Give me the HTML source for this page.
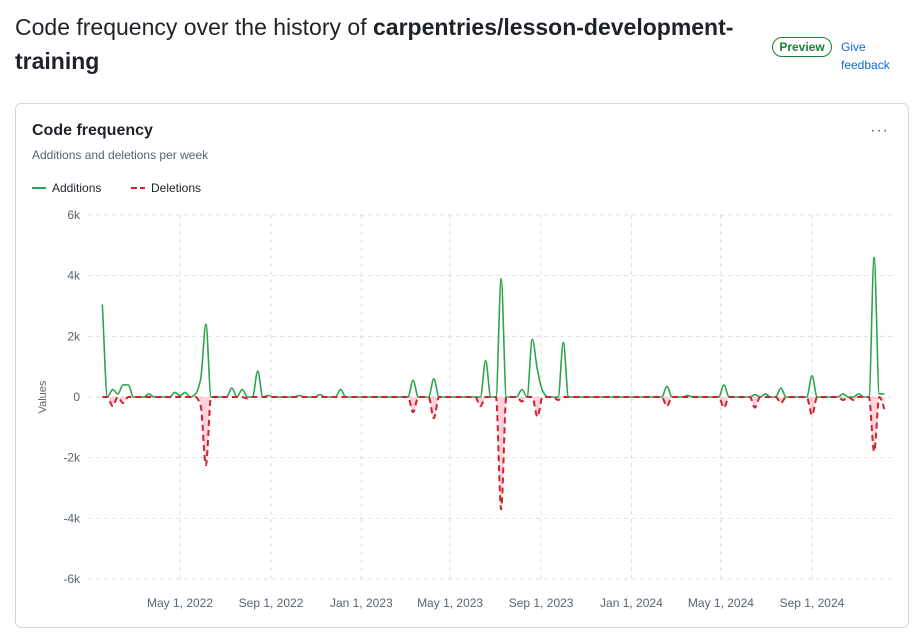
<!DOCTYPE html>
<html><head><meta charset="utf-8">
<style>
body{margin:0;width:924px;height:641px;background:#fff;font-family:"Liberation Sans",sans-serif;color:#1f2328;position:relative;overflow:hidden}
.abs{position:absolute}
h1{position:absolute;left:15px;top:10px;margin:0;font-size:23px;font-weight:400;line-height:34px;width:740px}
h1 b{font-weight:700}
.card{position:absolute;left:15px;top:103px;width:894px;height:525px;border:1px solid #d0d7de;border-radius:6px;box-sizing:border-box}
</style></head><body>
<h1>Code frequency over the history of <b>carpentries/lesson-development-training</b></h1>
<div class="abs" style="left:772px;top:37px;width:58px;height:18px;border:1px solid #1a7f37;border-radius:10px;color:#1a7f37;font-size:12px;font-weight:700;text-align:center;line-height:18px">Preview</div>
<div class="abs" style="left:841px;top:38px;color:#0969da;font-size:12px;line-height:18px">Give<br>feedback</div>
<div class="card"></div>
<div class="abs" style="left:32px;top:122px;font-size:16px;font-weight:700">Code frequency</div>
<div class="abs" style="left:32px;top:148px;font-size:12px;color:#59636e">Additions and deletions per week</div>
<div class="abs" style="left:870px;top:122px;font-size:16px;color:#59636e;letter-spacing:1px">···</div>
<svg class="abs" style="left:0;top:0" width="924" height="641" id="chart">
<g><line x1="32" y1="188" x2="46" y2="188" stroke="#2da44e" stroke-width="2"/><text x="52" y="192" font-size="12" fill="#1f2328">Additions</text></g>
<g><line x1="131" y1="188" x2="145" y2="188" stroke="#cf222e" stroke-width="2" stroke-dasharray="6,3"/><text x="151" y="192" font-size="12" fill="#1f2328">Deletions</text></g>
<text transform="translate(46,397) rotate(-90)" text-anchor="middle" font-size="11" fill="#59636e">Values</text>
</svg>
<script>
const yTicks=[6000,4000,2000,0,-2000,-4000,-6000];
const yTickLabels=["6k","4k","2k","0","-2k","-4k","-6k"];
const xTickDates=["2022-05-01","2022-09-01","2023-01-01","2023-05-01","2023-09-01","2024-01-01","2024-05-01","2024-09-01"];
const xTickLabels=["May 1, 2022","Sep 1, 2022","Jan 1, 2023","May 1, 2023","Sep 1, 2023","Jan 1, 2024","May 1, 2024","Sep 1, 2024"];
const startWeek="2022-01-16";
const additions=[3050,0,250,100,400,400,0,0,0,100,
0,0,0,0,150,50,150,0,100,600,
2400,0,0,0,0,300,0,250,0,0,
850,0,50,0,0,0,0,0,50,0,
0,0,80,0,0,0,250,0,0,0,
0,0,0,0,0,0,0,0,0,0,
550,0,0,0,600,0,0,0,0,0,
0,0,0,0,1200,0,0,3900,0,0,
0,250,0,1900,900,200,0,0,0,1800,
0,0,0,0,0,0,0,0,0,0,
0,0,0,0,0,0,0,0,0,350,
0,0,0,50,0,0,0,0,0,0,
400,0,0,0,0,0,80,0,100,0,
0,300,0,0,0,0,0,700,0,0,
0,0,0,100,0,0,100,0,0,4600,
100,100];
const deletions=[0,0,-300,0,-200,0,0,0,0,0,
0,0,0,0,0,0,0,0,0,-300,
-2250,0,0,0,0,0,0,0,-50,0,
0,0,0,0,0,0,0,0,0,0,
0,0,0,0,0,0,0,0,0,0,
0,0,0,0,0,0,0,0,0,0,
-500,0,0,0,-700,0,0,0,0,0,
0,0,0,-300,0,0,0,-3700,0,0,
0,-150,0,0,-650,0,0,0,-100,0,
0,0,0,0,0,0,0,0,0,0,
0,0,0,0,0,0,0,0,0,-300,
0,0,0,0,0,0,0,0,0,0,
-350,0,0,0,0,0,-350,0,0,0,
0,-200,0,0,0,0,0,-600,0,0,
0,0,0,-100,0,-100,0,0,0,-1800,
0,-400];
const svg=document.getElementById('chart');
const NS='http://www.w3.org/2000/svg';
const DAY=86400000, ref=Date.parse("2022-05-01");
function xs(d){return 180+(d-ref)/DAY*0.74;}
function ys(v){return 397-v*(182/6000);}
function mk(t,a){const e=document.createElementNS(NS,t);for(const k in a)e.setAttribute(k,a[k]);svg.appendChild(e);return e;}
yTicks.forEach((v,i)=>{
 const g=mk('line',{x1:88,x2:892,y1:ys(v),y2:ys(v),stroke:'#d8dee4','stroke-dasharray':'4,4'});
 
 
 const t=mk('text',{x:80,y:ys(v)+4,'text-anchor':'end','font-size':12,fill:'#59636e'});
 t.textContent=yTickLabels[i];
 
 
});
xTickDates.forEach((d,i)=>{
 const x=xs(Date.parse(d));
 const g=mk('line',{x1:x,x2:x,y1:215,y2:579,stroke:'#d8dee4','stroke-dasharray':'4,4'});
 
 
 const t=mk('text',{x:x,y:607,'text-anchor':'middle','font-size':12,fill:'#59636e'});
 t.textContent=xTickLabels[i];
 
 
});
function pts(arr){const s=Date.parse(startWeek);return arr.map((v,i)=>[xs(s+i*7*DAY),ys(v)]);}
function mono(p){
 const n=p.length,d=[],m=[];
 for(let i=0;i<n-1;i++)d.push((p[i+1][1]-p[i][1])/(p[i+1][0]-p[i][0]));
 m[0]=d[0];m[n-1]=d[n-2];
 for(let i=1;i<n-1;i++){m[i]=(d[i-1]*d[i]<=0)?0:3*(d[i-1]+d[i])/( (2*d[i]+d[i-1])/d[i-1]*d[i]/d[i] *0+ (d[i-1]+d[i]) )*0+ (2*d[i-1]*d[i])/(d[i-1]+d[i]);}
 let s='M'+p[0][0]+','+p[0][1];
 for(let i=0;i<n-1;i++){const h=(p[i+1][0]-p[i][0])/3;
  s+=' C'+(p[i][0]+h)+','+(p[i][1]+m[i]*h)+' '+(p[i+1][0]-h)+','+(p[i+1][1]-m[i+1]*h)+' '+p[i+1][0]+','+p[i+1][1];}
 return s;
}
const dp=pts(deletions), dpath=mono(dp);
const fill=mk('path',{d:dpath+' L'+dp[dp.length-1][0]+','+ys(0)+' L'+dp[0][0]+','+ys(0)+' Z',fill:'rgba(255,80,110,0.25)',stroke:'none'});


const ap=mk('path',{d:mono(pts(additions)),fill:'none',stroke:'#2da44e','stroke-width':1.6});


const dl=mk('path',{d:dpath,fill:'none',stroke:'#cf222e','stroke-width':2,'stroke-dasharray':'6,4'});


</script>
</body></html>
